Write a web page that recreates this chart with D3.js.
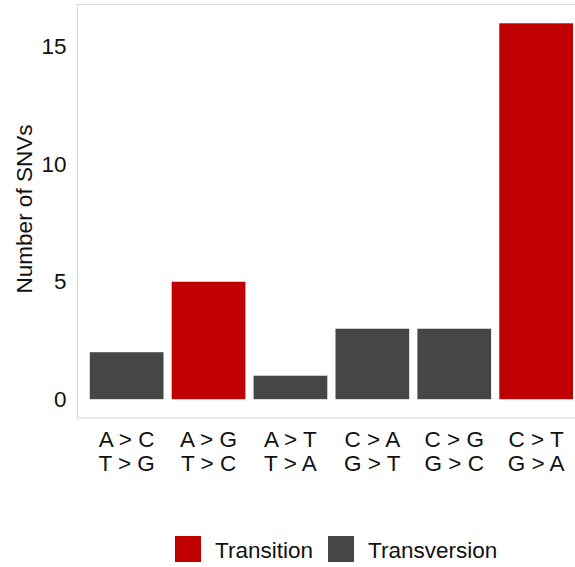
<!DOCTYPE html>
<html><head><meta charset="utf-8">
<script src="https://cdn.jsdelivr.net/npm/d3@7"></script>
<style>
html,body{margin:0;padding:0;background:#fff;}
svg{display:block;font-family:"Liberation Sans",Arial,sans-serif;}
</style></head>
<body><svg id="chart" width="575" height="567"></svg>
<script>
const categories = ["A>C/T>G","A>G/T>C","A>T/T>A","C>A/G>T","C>G/G>C","C>T/G>A"];
const labelLine1 = ["A > C","A > G","A > T","C > A","C > G","C > T"];
const labelLine2 = ["T > G","T > C","T > A","G > T","G > C","G > A"];
const counts = [2,5,1,3,3,16];
const types = ["Transversion","Transition","Transversion","Transversion","Transversion","Transition"];
const legendKeys = ["Transition","Transversion"];
const yTicks = [0,5,10,15];
const colors = {Transition:"#C00000", Transversion:"#464646"};

const svg = d3.select("#chart");
const L = 77.5, R = 585.3, T = 4.5, B = 418;
const FS = 22.5;

const x = d3.scaleBand().domain(categories).range([L,R]).paddingInner(0.1).paddingOuter(0.15);
const y = d3.scaleLinear().domain([-0.8,16.8]).range([B,T]);

// panel border
svg.append("rect").attr("x",L).attr("y",T).attr("width",R-L).attr("height",B-T)
  .attr("fill","none").attr("stroke","#d9d9d9").attr("stroke-width",1.1);

// bars
svg.append("g").selectAll("rect").data(categories).join("rect")
  .attr("x",d=>x(d)).attr("width",x.bandwidth())
  .attr("y",(d,i)=>y(counts[i])).attr("height",(d,i)=>y(0)-y(counts[i]))
  .attr("fill",(d,i)=>colors[types[i]]);

// y axis
const ya = svg.append("g").attr("transform",`translate(${L},0)`)
  .call(d3.axisLeft(y).tickValues(yTicks).tickSize(0).tickPadding(11));
ya.select(".domain").remove();
ya.selectAll("text").attr("font-size",FS).attr("fill","#111").attr("font-family","Liberation Sans, Arial, sans-serif");

// x labels
const xl = svg.append("g").selectAll("text").data(categories).join("text")
  .attr("text-anchor","middle").attr("font-size",FS).attr("fill","#111");
xl.append("tspan").attr("x",d=>x(d)+x.bandwidth()/2).attr("y",447.3).text((d,i)=>labelLine1[i]);
xl.append("tspan").attr("x",d=>x(d)+x.bandwidth()/2).attr("y",470.8).text((d,i)=>labelLine2[i]);

// y title
svg.append("text").attr("transform",`translate(32,209) rotate(-90)`)
  .attr("text-anchor","middle").attr("font-size",FS).attr("fill","#111").text("Number of SNVs");

// legend
const lg = svg.append("g");
const legX = [175, 328];
legendKeys.forEach((k,i)=>{
  lg.append("rect").attr("x",legX[i]).attr("y",536).attr("width",26).attr("height",26).attr("fill",colors[k]);
  lg.append("text").attr("x",legX[i]+40).attr("y",557.5).attr("font-size",FS).attr("fill","#111").text(k);
});
</script></body></html>
